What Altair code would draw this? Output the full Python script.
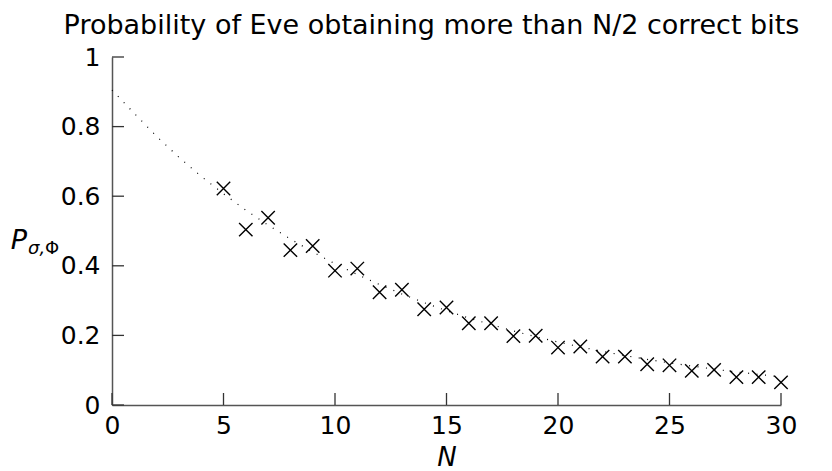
import altair as alt
import pandas as pd

# Curve (dotted) values
curve_n = list(range(0, 31))
curve_p = [0.905, 0.838, 0.772, 0.712, 0.657, 0.607, 0.560, 0.517, 0.477, 0.440,
           0.406, 0.375, 0.346, 0.319, 0.294, 0.271, 0.250, 0.231, 0.213, 0.196,
           0.181, 0.167, 0.154, 0.142, 0.131, 0.121, 0.112, 0.103, 0.095, 0.088, 0.081]

# Markers (x)
mark_n = list(range(5, 31))
mark_p = [0.622, 0.504, 0.538, 0.445, 0.457, 0.386, 0.392, 0.324, 0.331, 0.275,
          0.280, 0.235, 0.235, 0.198, 0.199, 0.165, 0.168, 0.139, 0.139, 0.117,
          0.114, 0.098, 0.101, 0.080, 0.080, 0.065]

x_ticks = [0, 5, 10, 15, 20, 25, 30]
y_ticks = [0, 0.2, 0.4, 0.6, 0.8, 1]

title_text = "Probability of Eve obtaining more than N/2 correct bits"
x_title = "N"
y_title_main = "P"
y_title_sub1 = "σ,"
y_title_sub2 = "Φ"

W, H = 669, 348
FONT = "DejaVu Sans"

curve_df = pd.DataFrame({"N": curve_n, "P": curve_p})
mark_df = pd.DataFrame({"N": mark_n, "P": mark_p})
xt_df = pd.DataFrame({"N": x_ticks})
yt_df = pd.DataFrame({"P": y_ticks})

xs = alt.Scale(domain=[0, 30], nice=False, zero=False)
ys = alt.Scale(domain=[0, 1], nice=False)

x_axis = alt.Axis(values=x_ticks, ticks=False, grid=False, labelPadding=8,
                  labelFont=FONT, labelFontSize=25, labelColor="black",
                  domainColor="#555555", domainWidth=1.5,
                  title=x_title, titleFont=FONT, titleFontSize=26,
                  titleFontStyle="italic", titleFontWeight="normal",
                  titleColor="black", titlePadding=6, labelFlush=False)
y_axis = alt.Axis(values=y_ticks, ticks=False, grid=False, labelPadding=12,
                  labelFont=FONT, labelFontSize=25, labelColor="black",
                  domainColor="#555555", domainWidth=1.5, title=None,
                  labelFlush=False,
                  labelExpr="datum.value == 0 ? '0' : datum.value == 1 ? '1' : format(datum.value, '.1f')")

X = alt.X("N:Q", scale=xs, axis=x_axis)
Y = alt.Y("P:Q", scale=ys, axis=y_axis)

curve = alt.Chart(curve_df).mark_line(
    color="black", strokeWidth=1.2, strokeDash=[1, 7.5]
).encode(x=X, y=Y)

marks = alt.Chart(mark_df).mark_point(
    shape="M-1,-1L1,1M-1,1L1,-1", size=180, filled=False,
    color="black", strokeWidth=1.4, opacity=1
).encode(x=X, y=Y)

xticks = alt.Chart(xt_df).mark_rule(color="#333333", strokeWidth=1.3).encode(
    x=X,
    y=alt.value(H),
    y2=alt.value(H - 12),
)

yticks = alt.Chart(yt_df).mark_rule(color="#333333", strokeWidth=1.3).encode(
    y=Y,
    x=alt.value(0),
    x2=alt.value(12),
)

ylab_main = alt.Chart(pd.DataFrame({"t": [y_title_main]})).mark_text(
    font=FONT, fontSize=27, fontStyle="italic", color="black",
    align="center", baseline="alphabetic"
).encode(text="t:N", x=alt.value(-93), y=alt.value(192))

ylab_sub1 = alt.Chart(pd.DataFrame({"t": [y_title_sub1]})).mark_text(
    font=FONT, fontSize=18, fontStyle="italic", color="black",
    align="left", baseline="alphabetic"
).encode(text="t:N", x=alt.value(-84), y=alt.value(197))

ylab_sub2 = alt.Chart(pd.DataFrame({"t": [y_title_sub2]})).mark_text(
    font=FONT, fontSize=18, color="black",
    align="left", baseline="alphabetic"
).encode(text="t:N", x=alt.value(-67), y=alt.value(197))

chart = alt.layer(curve, xticks, yticks, marks, ylab_main, ylab_sub1, ylab_sub2).properties(
    width=W, height=H,
    padding={"left": 104, "top": 49, "right": 30, "bottom": 66},
    autosize=alt.AutoSizeParams(type="none"),
    title=alt.TitleParams(title_text, font=FONT, fontSize=27, fontWeight="normal",
                          color="black", anchor="middle", dx=-15, offset=5),
).configure_view(stroke=None)

chart.save("out.html", embed_options={"renderer": "svg", "actions": False})
